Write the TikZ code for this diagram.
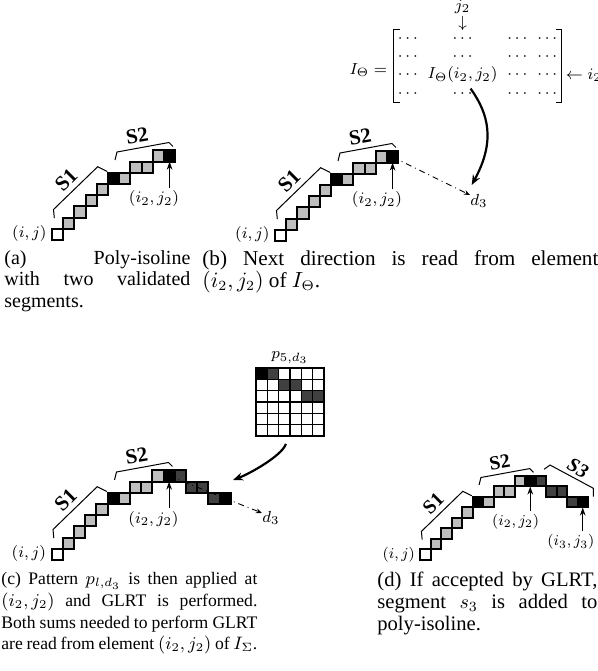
\documentclass[tikz,border=0pt]{standalone}
\usepackage{amsmath}
\usepackage{fontspec}
\setmainfont{Liberation Serif}
\usetikzlibrary{arrows.meta,positioning,matrix}
\definecolor{lgray}{HTML}{BEBEBE}
\definecolor{dgray}{HTML}{404040}
\tolerance=10000
\hyphenpenalty=10000
\exhyphenpenalty=10000
\newcommand{\cellsz}{11.2}
\newcommand{\pcell}{11.3}
\tikzset{
  cell/.style={draw=black,line width=1pt,minimum size=5.6pt,inner sep=0pt,outer sep=0pt},
  brack/.style={line width=0.5pt},
  seglbl/.style={font=\fontsize{10.5}{12}\selectfont\bfseries,inner sep=0pt},
  lbl/.style={font=\fontsize{8}{9.6}\selectfont,inner sep=0.5pt},
  mtx/.style={font=\fontsize{8}{9.6}\selectfont,inner sep=0.5pt},
  mbrack/.style={line width=0.4pt},
  pointer/.style={line width=0.6pt,-{Stealth[length=4pt,width=2.8pt]},shorten <=1pt},
  dirline/.style={line width=0.45pt,dash dot,-{Stealth[length=3pt,width=2.4pt]}},
  bigarrow/.style={line width=1.1pt,-{Stealth[length=5pt,width=4pt]}},
  gridline/.style={line width=0.6pt},
  capt/.style={align=justify,inner sep=0pt,anchor=north west}
}
\newcommand{\polyiso}[1]{%
  \foreach \cx/\cy/\fc [count=\k] in {0/0/white,1/1/lgray,2/2/lgray,3/3/lgray,4/4/lgray,5/5/black,6/5/lgray,7/6/lgray,8/6/lgray,9/7/lgray,10/7/black}
    \node[cell,fill=\fc] (#1-\k) at ({(\cx+0.5)*\cellsz},{(\cy+0.5)*\cellsz}) {};
  \draw[brack] (2.3,21.8) -- (1.5,30.5) -- (45.7,73.3) -- (55.3,68.5);
  \node[seglbl,rotate=45] (#1-s1) at (14,60) {S1};
  \draw[brack] (63,80) -- (65,88) -- (117,97.5) -- (121,93.5);
  \node[seglbl,rotate=10] (#1-s2) at (85,104) {S2};
  \node[lbl,anchor=east] (#1-ij) at (-4,6) {$(i,j)$};
  \node[lbl] (#1-i2) at (102,41) {$(i_2,j_2)$};
  \draw[pointer] (#1-i2.north -| #1-11) -- (#1-11.south);
}
\newcommand{\segthree}[1]{%
  \foreach \cx/\cy/\fc [count=\k from 12] in {11/7/dgray,12/6/dgray,13/6/dgray,14/5/dgray,15/5/black}
    \node[cell,fill=\fc] (#1-\k) at ({(\cx+0.5)*\cellsz},{(\cy+0.5)*\cellsz}) {};
}

\begin{document}
\begin{tikzpicture}[x=0.5pt,y=0.5pt]
  \useasboundingbox (0,0) rectangle (598,671);
  \begin{scope}[shift={(52,431)}]
    \polyiso{a}
  \end{scope}
  \begin{scope}[shift={(275,430)}]
    \polyiso{b}
    \coordinate (b-d3end) at (195,46);
    \draw[dirline] (b-11.center) -- (b-d3end);
    \node[lbl] (b-d3) at (204,40) {$d_3$};
    \coordinate (b-hit) at (196.7,56);
  \end{scope}
  \matrix (m) [matrix of math nodes,inner xsep=1.5pt,inner ysep=0pt,
    nodes={mtx,text height=6pt,text depth=2.1pt},column sep=4pt,row sep=0pt] at (477.5,605) {
    \cdots & \cdots & \cdots & \cdots \\
    \cdots & \cdots & \cdots & \cdots \\
    \cdots & I_\Theta(i_2,j_2) & \cdots & \cdots \\
    \cdots & \cdots & \cdots & \cdots \\
  };
  \draw[mbrack] ([xshift=3pt]m.north west) -- (m.north west) -- (m.south west) -- ([xshift=3pt]m.south west);
  \draw[mbrack] ([xshift=-3pt]m.north east) -- (m.north east) -- (m.south east) -- ([xshift=-3pt]m.south east);
  \node[mtx,anchor=east] (itheta) at ([xshift=-2.5pt,yshift=-2pt]m.west) {$I_\Theta =$};
  \node[mtx,above=-1.5pt of m-1-2] (jarrow) {$\downarrow$};
  \node[mtx,above=0pt of jarrow] (j2) {$j_2$};
  \node[mtx,anchor=west] (i2) at ([xshift=3pt]m-3-4.east) {$\leftarrow i_2$};
  \draw[bigarrow] ([xshift=4pt,yshift=-2pt]m-3-2.south) .. controls +(18,-25) and +(24,44) .. (b-hit);
  \begin{scope}[shift={(51.5,111)}]
    \polyiso{c}
    \segthree{c}
    \coordinate (c-d3end) at (210.5,47);
    \draw[dirline] (c-11.center) -- (c-d3end);
    \node[lbl] (c-d3) at (219.5,42) {$d_3$};
    \coordinate (c-hit) at (181.5,80);
  \end{scope}
  \begin{scope}[shift={(256,235)}]
    \foreach \cx/\cy/\fc in {0/5/black,1/5/dgray,2/4/dgray,3/4/dgray,4/3/dgray,5/3/dgray}
      \fill[\fc] ({\cx*\pcell},{\cy*\pcell}) rectangle ++(\pcell,\pcell);
    \foreach \i in {1,...,5}{
      \draw[gridline] ({\i*\pcell},0) -- ++(0,{6*\pcell});
      \draw[gridline] (0,{\i*\pcell}) -- ++({6*\pcell},0);
    }
    \node[draw,line width=0.9pt,minimum size=33.9pt,inner sep=0pt] (pat) at ({3*\pcell},{3*\pcell}) {};
  \end{scope}
  \node[lbl,above=1pt of pat] (plabel) {$p_{5,d_3}$};
  \draw[bigarrow] ([xshift=-2pt,yshift=-3.5pt]pat.south) .. controls +(-4,-12) and +(16,6) .. (c-hit);
  \begin{scope}[shift={(420,111)},scale=0.9375,every node/.append style={transform shape}]
    \polyiso{d}
    \segthree{d}
    \draw[brack] (132.3,96.7) -- (138.7,101.3) -- (184.9,76.5) -- (184.9,67.5);
    \node[seglbl,font=\fontsize{10.5}{12}\selectfont\bfseries\itshape,rotate=-28] (d-s3) at (168.5,98) {S3};
    \node[lbl] (d-i3) at (161,19) {$(i_3,j_3)$};
    \draw[pointer] (d-i3.north -| d-16) -- (d-16.south);
  \end{scope}
  \node[capt,font=\fontsize{10}{10.85}\selectfont,text width=93pt] (cap-a) at (4,421) {(a) Poly-isoline\linebreak with two validated\linebreak segments.};
  \node[capt,font=\fontsize{10.6}{10.85}\selectfont,text width=198pt] (cap-b) at (202,421) {(b) Next direction is read from element\linebreak $(i_2,j_2)$ of $I_\Theta$.};
  \node[capt,font=\fontsize{8.8}{10.85}\selectfont,text width=128pt] (cap-c) at (1,99) {(c) Pattern $p_{l,d_3}$ is then applied at\linebreak $(i_2,j_2)$ and GLRT is performed.\linebreak Both sums needed to perform GLRT\linebreak are read from element $(i_2,j_2)$ of $I_\Sigma$.};
  \node[capt,font=\fontsize{10.3}{10.85}\selectfont,text width=110pt] (cap-d) at (377,99) {(d) If accepted by GLRT,\linebreak segment $s_3$ is added to\linebreak poly-isoline.};
\end{tikzpicture}
\end{document}
